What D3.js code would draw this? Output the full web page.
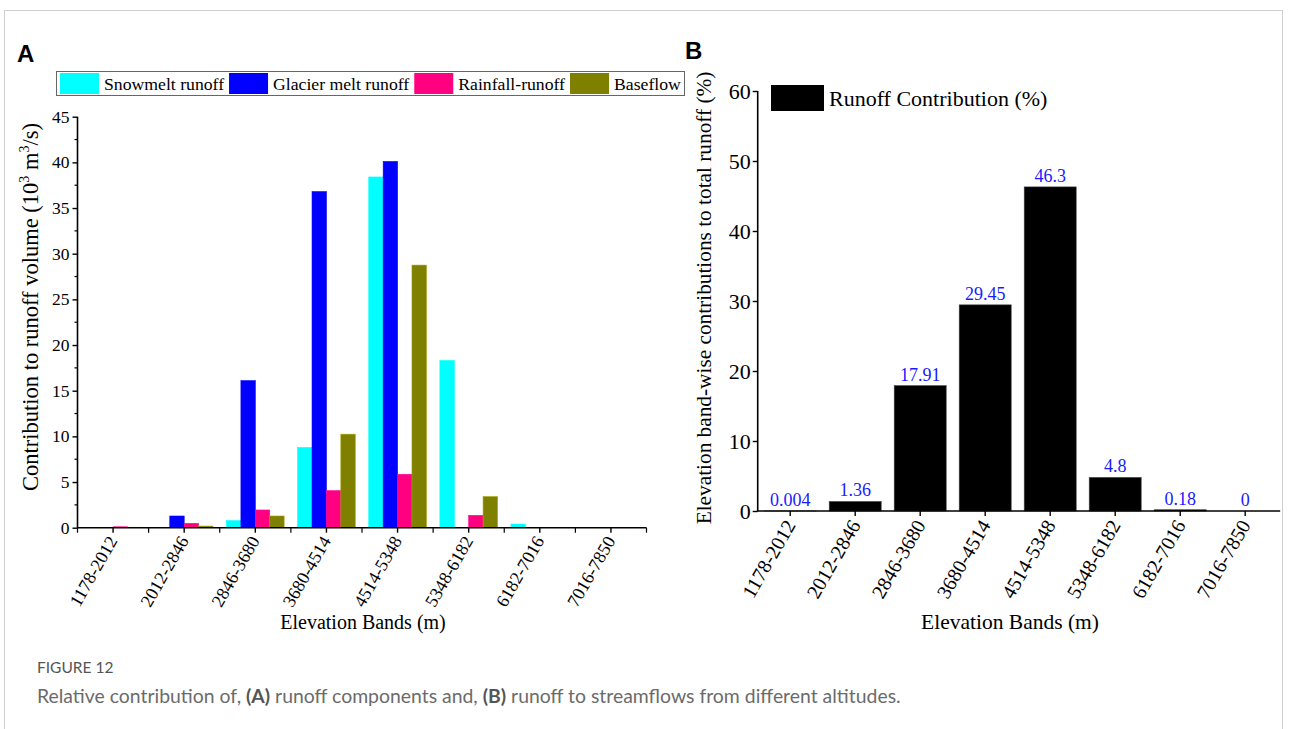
<!DOCTYPE html>
<html>
<head>
<meta charset="utf-8">
<script src="https://cdn.jsdelivr.net/npm/d3@7"></script>
<style>
  html, body { margin: 0; padding: 0; background: #fff; }
  svg { display: block; }
</style>
</head>
<body>
<svg id="chart" width="1290" height="729"></svg>
<script>
// ---------- DATA ----------
const bands = ["1178-2012", "2012-2846", "2846-3680", "3680-4514", "4514-5348", "5348-6182", "6182-7016", "7016-7850"];
const seriesNames = ["Snowmelt runoff", "Glacier melt runoff", "Rainfall-runoff", "Baseflow"];
const seriesColors = ["#00FFFF", "#0000FF", "#FF0080", "#808000"];
const snowmelt = [0, 0, 0.77, 8.78, 38.4, 18.3, 0.4, 0];
const glacier = [0, 1.28, 16.1, 36.8, 40.1, 0, 0, 0];
const rainfall = [0.1, 0.48, 1.94, 4.06, 5.85, 1.35, 0.02, 0];
const baseflow = [0.05, 0.18, 1.28, 10.24, 28.75, 3.4, 0.02, 0];
const contribution = [0.004, 1.36, 17.91, 29.45, 46.3, 4.8, 0.18, 0];
const contributionLabels = ["0.004", "1.36", "17.91", "29.45", "46.3", "4.8", "0.18", "0"];
const leftTicks = [0, 5, 10, 15, 20, 25, 30, 35, 40, 45];
const rightTicks = [0, 10, 20, 30, 40, 50, 60];

const series = [snowmelt, glacier, rainfall, baseflow];

const svg = d3.select("#chart");
const SERIF = "'Liberation Serif', 'Times New Roman', serif";
const SANS = "'Liberation Sans', Arial, sans-serif";

// frame
svg.append("rect").attr("x", 4.5).attr("y", 10.5).attr("width", 1278).attr("height", 730)
  .attr("fill", "none").attr("stroke", "#cfcfcf").attr("stroke-width", 1);

// panel letters
svg.append("text").attr("x", 17).attr("y", 62).text("A")
  .style("font-family", SANS).style("font-weight", "bold").style("font-size", "24px");
svg.append("text").attr("x", 685).attr("y", 59).text("B")
  .style("font-family", SANS).style("font-weight", "bold").style("font-size", "24px");

// ---------- PANEL A ----------
const A = { x0: 77.5, x1: 646.5, yTop: 116.7, yBot: 527.7 };
const xA = d3.scaleBand().domain(bands).range([A.x0, A.x1]).padding(0);
const bwA = xA.bandwidth();
const xInner = d3.scaleBand().domain(d3.range(series.length)).range([bwA * 0.095, bwA * 0.905]).padding(0);
const yA = d3.scaleLinear().domain([0, 45]).range([A.yBot, A.yTop]);

const gA = svg.append("g");
series.forEach((vals, si) => {
  gA.append("g").selectAll("rect").data(vals).join("rect")
    .attr("x", (d, i) => xA(bands[i]) + xInner(si))
    .attr("width", xInner.bandwidth())
    .attr("y", d => yA(d))
    .attr("height", d => yA(0) - yA(d))
    .attr("fill", seriesColors[si])
    .attr("stroke", d3.color(seriesColors[si]).brighter(0.6))
    .attr("stroke-width", 0.6);
});

// y axis A
const yAxisA = d3.axisLeft(yA).tickValues(leftTicks).tickSize(5).tickPadding(3).tickFormat(d3.format("d"));
const gyA = svg.append("g").attr("transform", `translate(${A.x0},0)`).call(yAxisA);
gyA.select(".domain").remove();
svg.append("line").attr("x1", A.x0).attr("x2", A.x0).attr("y1", A.yTop).attr("y2", A.yBot + 0.5)
  .attr("stroke", "#000").attr("stroke-width", 1.6);
// minor ticks
svg.append("g").selectAll("line").data(d3.range(2.5, 45, 5)).join("line")
  .attr("x1", A.x0 - 3).attr("x2", A.x0).attr("y1", d => yA(d)).attr("y2", d => yA(d))
  .attr("stroke", "#000").attr("stroke-width", 1.2);
gyA.selectAll(".tick line").attr("stroke-width", 1.4);
gyA.selectAll(".tick text").style("font-family", SERIF).style("font-size", "17.5px").attr("fill", "#000");

// x axis A
const xAxisA = d3.axisBottom(xA).tickSize(5).tickPadding(2);
const gxA = svg.append("g").attr("transform", `translate(0,${A.yBot})`).call(xAxisA);
gxA.select(".domain").remove();
svg.append("line").attr("x1", A.x0).attr("x2", A.x1).attr("y1", A.yBot).attr("y2", A.yBot)
  .attr("stroke", "#000").attr("stroke-width", 1.6);
svg.append("g").selectAll("line").data(d3.range(bands.length + 1)).join("line")
  .attr("x1", i => A.x0 + i * bwA).attr("x2", i => A.x0 + i * bwA)
  .attr("y1", A.yBot).attr("y2", A.yBot + 5).attr("stroke", "#000").attr("stroke-width", 1.2);
gxA.selectAll(".tick line").attr("stroke-width", 1.4);
gxA.selectAll(".tick text")
  .style("font-family", SERIF).style("font-size", "18px").attr("fill", "#000")
  .attr("text-anchor", "end").attr("dy", null).attr("y", 0)
  .attr("transform", "translate(5,13) rotate(-60)");

// axis titles A
svg.append("text").attr("x", 363).attr("y", 629).attr("text-anchor", "middle")
  .style("font-family", SERIF).style("font-size", "20px").text("Elevation Bands (m)");
const tA = svg.append("text").attr("transform", "translate(38,307) rotate(-90)")
  .attr("text-anchor", "middle").style("font-family", SERIF).style("font-size", "22.5px");
tA.append("tspan").text("Contribution to runoff volume (10");
tA.append("tspan").attr("dy", -9).style("font-size", "14px").text("3");
tA.append("tspan").attr("dy", 9).text(" m");
tA.append("tspan").attr("dy", -9).style("font-size", "14px").text("3");
tA.append("tspan").attr("dy", 9).text("/s)");

// legend A
const legA = svg.append("g");
legA.append("rect").attr("x", 56.5).attr("y", 71.5).attr("width", 628).attr("height", 24)
  .attr("fill", "#fff").attr("stroke", "#666").attr("stroke-width", 1);
let lx = 60;
seriesNames.forEach((name, i) => {
  legA.append("rect").attr("x", lx).attr("y", 73).attr("width", 39).attr("height", 21)
    .attr("fill", seriesColors[i]);
  const t = legA.append("text").attr("x", lx + 44).attr("y", 89.5).text(name)
    .style("font-family", SERIF).style("font-size", "17.7px");
  lx = lx + 44 + t.node().getComputedTextLength() + 5;
});

// ---------- PANEL B ----------
const B = { x0: 757.7, x1: 1277.7, yTop: 91, yBot: 511 };
const xB = d3.scaleBand().domain(bands).range([B.x0, B.x1]).paddingInner(0.2).paddingOuter(0.1);
const yB = d3.scaleLinear().domain([0, 60]).range([B.yBot, B.yTop]);

svg.append("g").selectAll("rect").data(contribution).join("rect")
  .attr("x", (d, i) => xB(bands[i]))
  .attr("width", xB.bandwidth())
  .attr("y", d => yB(d))
  .attr("height", d => yB(0) - yB(d))
  .attr("fill", "#000")
  .attr("stroke", "#444").attr("stroke-width", 0.6);

svg.append("g").selectAll("text").data(contribution).join("text")
  .attr("x", (d, i) => xB(bands[i]) + xB.bandwidth() / 2)
  .attr("y", d => yB(d) - 5)
  .attr("text-anchor", "middle")
  .style("font-family", SERIF).style("font-size", "18px").attr("fill", "#1a1aff")
  .text((d, i) => contributionLabels[i]);

const yAxisB = d3.axisLeft(yB).tickValues(rightTicks).tickSize(5).tickPadding(2).tickFormat(d3.format("d"));
const gyB = svg.append("g").attr("transform", `translate(${B.x0},0)`).call(yAxisB);
gyB.select(".domain").remove();
svg.append("line").attr("x1", B.x0).attr("x2", B.x0).attr("y1", B.yTop).attr("y2", B.yBot + 0.5)
  .attr("stroke", "#000").attr("stroke-width", 1.6);
gyB.selectAll(".tick line").attr("stroke-width", 1.4);
gyB.selectAll(".tick text").style("font-family", SERIF).style("font-size", "22px").attr("fill", "#000").attr("dy", "0.36em");

const xAxisB = d3.axisBottom(xB).tickSize(5).tickPadding(2);
const gxB = svg.append("g").attr("transform", `translate(0,${B.yBot})`).call(xAxisB);
gxB.select(".domain").remove();
svg.append("line").attr("x1", B.x0).attr("x2", B.x1 + 2.5).attr("y1", B.yBot).attr("y2", B.yBot)
  .attr("stroke", "#000").attr("stroke-width", 1.6);
gxB.selectAll(".tick line").attr("stroke-width", 1.4);
gxB.selectAll(".tick text")
  .style("font-family", SERIF).style("font-size", "20px").attr("fill", "#000")
  .attr("text-anchor", "end").attr("dy", null).attr("y", 0)
  .attr("transform", "translate(6,14) rotate(-60)");

svg.append("text").attr("x", 1010).attr("y", 629).attr("text-anchor", "middle")
  .style("font-family", SERIF).style("font-size", "21.5px").text("Elevation Bands (m)");
svg.append("text").attr("transform", "translate(711,298) rotate(-90)")
  .attr("text-anchor", "middle").style("font-family", SERIF).style("font-size", "21.3px")
  .text("Elevation band-wise contributions to total runoff (%)");

// legend B
svg.append("rect").attr("x", 771).attr("y", 85).attr("width", 53).attr("height", 26).attr("fill", "#000");
svg.append("text").attr("x", 829).attr("y", 106).text("Runoff Contribution (%)")
  .style("font-family", SERIF).style("font-size", "22px");

// ---------- CAPTION ----------
const CAP = "Lato, 'Open Sans', sans-serif";
svg.append("text").attr("x", 37).attr("y", 673).text("FIGURE 12")
  .style("font-family", CAP).style("font-size", "15.5px").attr("fill", "#555");
const cap = svg.append("text").attr("x", 37).attr("y", 703)
  .style("font-family", CAP).style("font-size", "19.4px").attr("fill", "#6b6b6b");
cap.append("tspan").text("Relative contribution of, ");
cap.append("tspan").style("font-weight", "bold").attr("fill", "#555").text("(A)");
cap.append("tspan").text(" runoff components and, ");
cap.append("tspan").style("font-weight", "bold").attr("fill", "#555").text("(B)");
cap.append("tspan").text(" runoff to streamflows from different altitudes.");
</script>
</body>
</html>
